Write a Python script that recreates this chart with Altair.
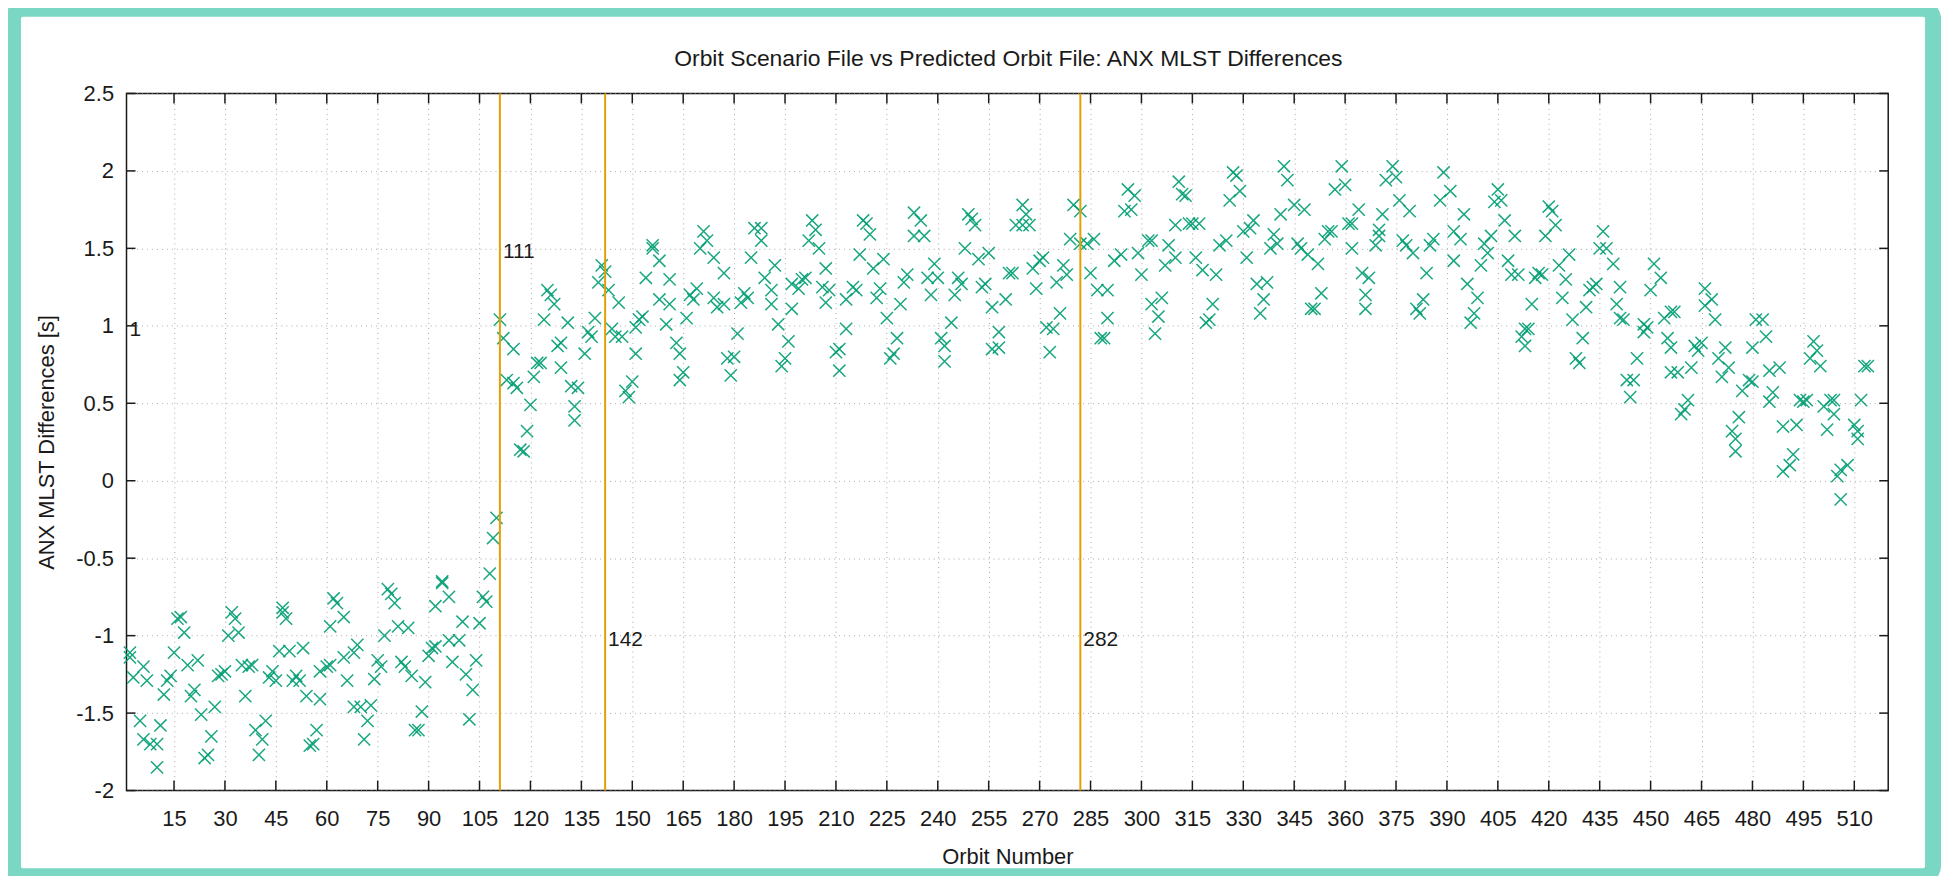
import altair as alt
import pandas as pd

# ---- data (orbit number, ANX MLST difference [s]) ----
orbit_a = [2, 2, 3, 5, 6, 6, 7, 8, 10, 10, 11, 12, 13, 14, 15, 16, 17, 18, 19, 20, 21, 22, 23, 24, 25,
           26, 27, 28, 29, 30, 31, 32, 33, 34, 35, 36, 37, 38, 39, 40, 41, 42, 43, 44, 45, 46, 47, 47,
           48, 49, 50, 51, 52, 53, 54, 55, 56, 57, 58, 58, 60, 61, 61, 62, 63, 65, 65, 66, 68, 68]
diff_a = [-1.11, -1.14, -1.27, -1.55, -1.20, -1.67, -1.29, -1.70, -1.85, -1.70, -1.58, -1.38, -1.29,
          -1.26, -1.11, -0.89, -0.88, -0.98, -1.19, -1.39, -1.35, -1.16, -1.51, -1.79, -1.77, -1.65,
          -1.46, -1.26, -1.25, -1.23, -1.00, -0.85, -0.89, -0.98, -1.19, -1.39, -1.20, -1.19, -1.61,
          -1.77, -1.67, -1.55, -1.27, -1.23, -1.29, -1.10, -0.85, -0.82, -0.89, -1.10, -1.29, -1.26,
          -1.29, -1.08, -1.39, -1.71, -1.70, -1.61, -1.41, -1.23, -1.20, -1.19, -0.94, -0.76, -0.79,
          -0.88, -1.14, -1.29, -1.11, -1.46]

orbit_b = [69, 70, 71, 72, 73, 74, 75, 76, 77, 78, 79, 80, 81, 82, 83, 84, 85, 86, 87, 88, 89, 90, 91,
           92, 92, 94, 94, 96, 96, 97, 99, 100, 101, 102, 103, 104, 105, 106, 107, 108, 109, 110, 111,
           112, 113, 115, 115, 116, 117, 118, 119, 120, 121, 122, 123, 124, 125, 126, 127, 128, 129,
           129, 131, 132, 133, 133]
diff_b = [-1.06, -1.46, -1.67, -1.55, -1.45, -1.28, -1.16, -1.20, -1.00, -0.70, -0.73, -0.79, -0.94,
          -1.17, -1.20, -0.95, -1.26, -1.61, -1.61, -1.49, -1.30, -1.13, -1.08, -1.07, -0.81, -0.65,
          -0.66, -0.75, -1.03, -1.17, -1.03, -0.91, -1.25, -1.54, -1.35, -1.16, -0.92, -0.75, -0.78,
          -0.60, -0.37, -0.24, 1.04, 0.92, 0.65, 0.63, 0.85, 0.60, 0.20, 0.19, 0.32, 0.49, 0.67, 0.76,
          0.76, 1.04, 1.23, 1.20, 1.14, 0.87, 0.89, 0.73, 1.02, 0.61, 0.48, 0.39]

orbit_c = [134, 136, 137, 138, 139, 140, 141, 142, 143, 144, 145, 146, 147, 148, 149, 150, 151, 151,
           152, 153, 154, 156, 156, 158, 158, 160, 161, 161, 163, 164, 165, 164, 166, 167, 168, 169,
           170, 171, 172, 174, 174, 175, 177, 177, 178, 179, 180, 181, 182, 183, 184, 185, 186, 188,
           188, 189, 192, 191, 191, 193, 194, 195, 196, 197, 197]
diff_c = [0.60, 0.82, 0.96, 0.93, 1.05, 1.28, 1.39, 1.35, 1.23, 0.98, 0.93, 1.15, 0.93, 0.58, 0.54,
          0.64, 0.82, 0.99, 1.04, 1.06, 1.31, 1.52, 1.50, 1.42, 1.17, 1.01, 1.14, 1.30, 0.89, 0.82,
          0.70, 0.65, 1.05, 1.20, 1.17, 1.24, 1.50, 1.61, 1.55, 1.44, 1.18, 1.12, 1.14, 1.34, 0.79,
          0.68, 0.80, 0.95, 1.15, 1.21, 1.18, 1.44, 1.63, 1.63, 1.55, 1.31, 1.39, 1.14, 1.23, 1.01,
          0.74, 0.79, 0.90, 1.11, 1.27]

orbit_d = [199, 200, 201, 202, 203, 204, 205, 206, 207, 207, 208, 210, 211, 211, 213, 213, 215, 216,
           217, 218, 219, 220, 221, 222, 223, 224, 225, 226, 227, 228, 229, 230, 231, 233, 235, 233,
           236, 237, 239, 238, 240, 241, 242, 242, 244, 245, 246, 247, 248, 249, 250, 251, 252, 253,
           254, 255, 256, 256, 258, 258, 260, 261, 262, 263]
diff_d = [1.24, 1.30, 1.31, 1.55, 1.68, 1.62, 1.50, 1.25, 1.15, 1.37, 1.23, 0.83, 0.85, 0.71, 0.98,
          1.17, 1.25, 1.23, 1.46, 1.68, 1.66, 1.59, 1.37, 1.18, 1.24, 1.43, 1.05, 0.79, 0.82, 0.92,
          1.14, 1.28, 1.33, 1.73, 1.68, 1.58, 1.58, 1.31, 1.40, 1.20, 1.31, 0.92, 0.87, 0.77, 1.02,
          1.20, 1.31, 1.27, 1.50, 1.72, 1.69, 1.65, 1.43, 1.25, 1.27, 1.47, 1.12, 0.85, 0.86, 0.96,
          1.17, 1.34, 1.34, 1.65]

orbit_e = [265, 266, 267, 265, 268, 270, 271, 269, 272, 274, 273, 276, 275, 278, 277, 279, 280, 282,
           282, 284, 286, 285, 287, 290, 288, 289, 290, 292, 294, 295, 296, 298, 297, 299, 300, 302,
           303, 303, 304, 305, 306, 307, 308, 310, 310, 311, 312, 313, 314, 315, 317, 316, 318, 320,
           321, 319, 322, 323, 325, 326, 327]
diff_e = [1.78, 1.72, 1.65, 1.65, 1.37, 1.42, 1.44, 1.24, 0.99, 0.98, 0.83, 1.08, 1.28, 1.33, 1.39,
          1.56, 1.78, 1.74, 1.53, 1.53, 1.56, 1.34, 1.23, 1.23, 0.92, 0.92, 1.05, 1.42, 1.46, 1.74,
          1.88, 1.84, 1.75, 1.47, 1.33, 1.55, 1.55, 1.14, 0.95, 1.06, 1.18, 1.39, 1.52, 1.44, 1.65,
          1.93, 1.85, 1.84, 1.66, 1.66, 1.66, 1.44, 1.36, 1.04, 1.14, 1.02, 1.33, 1.52, 1.55, 1.81,
          1.99]

orbit_f = [328, 329, 330, 332, 333, 331, 334, 337, 336, 335, 338, 339, 340, 341, 342, 343, 345, 348,
           346, 347, 349, 350, 351, 353, 352, 354, 355, 356, 357, 359, 360, 361, 362, 362, 364, 365,
           367, 366, 366, 369, 370, 371, 370, 372, 374, 375, 376, 379, 377, 378, 380, 381, 382, 383,
           384, 385, 386, 388, 389, 391, 392, 392]
diff_f = [1.97, 1.87, 1.61, 1.63, 1.68, 1.44, 1.27, 1.28, 1.17, 1.08, 1.50, 1.59, 1.53, 1.72, 2.03,
          1.94, 1.78, 1.75, 1.53, 1.50, 1.46, 1.11, 1.11, 1.21, 1.40, 1.56, 1.61, 1.61, 1.88, 2.03,
          1.91, 1.66, 1.66, 1.50, 1.75, 1.34, 1.31, 1.20, 1.11, 1.52, 1.62, 1.72, 1.58, 1.94, 2.03,
          1.96, 1.81, 1.74, 1.55, 1.52, 1.47, 1.11, 1.08, 1.17, 1.34, 1.52, 1.56, 1.81, 1.99, 1.87,
          1.61, 1.42]

orbit_g = [394, 395, 396, 399, 398, 397, 400, 401, 402, 403, 404, 405, 406, 407, 408, 409, 411, 410,
           412, 413, 414, 413, 415, 416, 417, 418, 419, 420, 421, 422, 423, 424, 425, 426, 427, 428,
           429, 430, 431, 432, 433, 434, 435, 436, 437, 439, 441, 440, 441, 442, 443, 445, 444, 446,
           448, 448, 449, 450, 451, 453, 454, 455, 456, 456, 456]
diff_g = [1.56, 1.72, 1.27, 1.18, 1.08, 1.02, 1.39, 1.53, 1.47, 1.58, 1.80, 1.88, 1.81, 1.68, 1.42,
          1.33, 1.33, 1.58, 0.93, 0.98, 0.98, 0.87, 1.14, 1.31, 1.34, 1.33, 1.58, 1.77, 1.74, 1.65,
          1.39, 1.18, 1.30, 1.46, 1.04, 0.79, 0.76, 0.92, 1.12, 1.23, 1.25, 1.27, 1.50, 1.61, 1.50,
          1.40, 1.25, 1.14, 1.05, 1.04, 0.65, 0.65, 0.54, 0.79, 0.96, 1.01, 0.99, 1.23, 1.40, 1.31,
          1.05, 0.92, 0.86, 0.70, 1.09]

orbit_h = [457, 458, 459, 460, 461, 462, 463, 465, 464, 466, 468, 466, 469, 470, 472, 471, 473, 474,
           476, 475, 475, 477, 479, 480, 480, 481, 483, 484, 485, 488, 486, 485, 489, 489, 491, 492,
           493, 494, 496, 495, 497, 498, 499, 500, 501, 502, 504, 503, 504, 505, 506, 506, 508, 510,
           511, 511, 512, 513, 514]
diff_h = [1.09, 0.70, 0.43, 0.46, 0.52, 0.73, 0.87, 0.89, 0.84, 1.24, 1.17, 1.13, 1.04, 0.79, 0.86,
          0.67, 0.73, 0.32, 0.41, 0.27, 0.19, 0.58, 0.65, 0.64, 0.86, 1.04, 1.04, 0.93, 0.71, 0.73,
          0.57, 0.51, 0.35, 0.06, 0.10, 0.17, 0.36, 0.52, 0.52, 0.51, 0.79, 0.90, 0.84, 0.74, 0.48,
          0.33, 0.52, 0.52, 0.43, 0.03, 0.07, -0.12, 0.10, 0.36, 0.32, 0.27, 0.52, 0.74, 0.74]

x_ticks = list(range(15, 511, 15))
y_ticks = [-2, -1.5, -1, -0.5, 0, 0.5, 1, 1.5, 2, 2.5]
event_orbits = [111, 142, 282]
label_x = [1, 111, 142, 282]
label_y = [1, 1.5, -1, -1]
label_text = ["1", "111", "142", "282"]
title_text = ["Orbit Scenario File vs Predicted Orbit File: ANX MLST Differences"]

# ---- layout ----
W, H = 1769, 700
PAD_L, PAD_T, PAD_R, PAD_B = 119, 84, 53, 84
BAND = 16
FONT = "Liberation Sans"
GREEN = "#009e73"
ORANGE = "#e69f00"
FRAME = "#7ad7c4"
INK = "#1a1a1a"

orbits = orbit_a + orbit_b + orbit_c + orbit_d + orbit_e + orbit_f + orbit_g + orbit_h
diffs = diff_a + diff_b + diff_c + diff_d + diff_e + diff_f + diff_g + diff_h
df = pd.DataFrame({"orbit": orbits, "diff": diffs})

xscale = alt.Scale(domain=[1, 520], nice=False, zero=False)
yscale = alt.Scale(domain=[-2, 2.5], nice=False, zero=False)

points = alt.Chart(df).mark_point(
    shape="M-1,-1L1,1M-1,1L1,-1", filled=False, color=GREEN,
    strokeWidth=1.5, size=150, opacity=0.9,
).encode(
    x=alt.X("orbit:Q", scale=xscale, axis=alt.Axis(
        values=x_ticks, grid=True, gridColor="#a8a8a8", gridDash=[1, 4], gridWidth=1,
        domain=False, ticks=False, tickSize=0, labelPadding=28, labelBaseline="middle",
        labelFont=FONT, labelFontSize=22, labelColor=INK, labelFlush=False, labelOverlap=False,
        labelExpr="toString(datum.value)",
        title="Orbit Number", titleFont=FONT, titleFontSize=22, titleFontWeight="normal",
        titleColor=INK, titleY=66, titleBaseline="middle",
    )),
    y=alt.Y("diff:Q", scale=yscale, axis=alt.Axis(
        values=y_ticks, grid=True, gridColor="#a8a8a8", gridDash=[1, 4], gridWidth=1,
        domain=False, ticks=False, tickSize=0, labelPadding=13,
        labelFont=FONT, labelFontSize=22, labelColor=INK, labelFlush=False, labelOverlap=False,
        labelExpr="toString(datum.value)",
        title="ANX MLST Differences [s]", titleFont=FONT, titleFontSize=22,
        titleFontWeight="normal", titleColor=INK, titleX=-80, titleBaseline="middle",
        titleAngle=270,
    )),
)

xt = pd.DataFrame({"t": x_ticks})
yt = pd.DataFrame({"t": y_ticks})
tick_style = dict(color=INK, strokeWidth=1.5)
xtick_bottom = alt.Chart(xt).mark_rule(**tick_style).encode(
    x=alt.X("t:Q", scale=xscale, axis=None), y=alt.value(H), y2=alt.value(H - 10))
xtick_top = alt.Chart(xt).mark_rule(**tick_style).encode(
    x=alt.X("t:Q", scale=xscale, axis=None), y=alt.value(0), y2=alt.value(10))
ytick_left = alt.Chart(yt).mark_rule(**tick_style).encode(
    y=alt.Y("t:Q", scale=yscale, axis=None), x=alt.value(0), x2=alt.value(9))
ytick_right = alt.Chart(yt).mark_rule(**tick_style).encode(
    y=alt.Y("t:Q", scale=yscale, axis=None), x=alt.value(W), x2=alt.value(W - 9))

vlines = alt.Chart(pd.DataFrame({"v": event_orbits})).mark_rule(
    color=ORANGE, strokeWidth=2).encode(x=alt.X("v:Q", scale=xscale, axis=None))

labels = alt.Chart(pd.DataFrame({"x": label_x, "y": label_y, "t": label_text})).mark_text(
    align="left", baseline="middle", dx=3, dy=4, font=FONT, fontSize=21, color=INK,
).encode(
    x=alt.X("x:Q", scale=xscale, axis=None),
    y=alt.Y("y:Q", scale=yscale, axis=None),
    text="t:N",
)

title = alt.Chart(pd.DataFrame({"t": title_text})).mark_text(
    align="center", baseline="middle", font=FONT, fontSize=23, color=INK,
).encode(x=alt.value(W / 2 + 1), y=alt.value(-35), text="t:N")

# decorative rounded border round the whole picture (partly cut by the page edges)
frame = alt.Chart(pd.DataFrame({"k": [0]})).mark_rect(
    fillOpacity=0, stroke=FRAME, strokeWidth=BAND, cornerRadius=10,
).encode(
    x=alt.value(-PAD_L + 5), x2=alt.value(W + PAD_R - 8),
    y=alt.value(-PAD_T - 1), y2=alt.value(H + PAD_B + 2),
)

chart = alt.layer(
    points, vlines, xtick_bottom, xtick_top, ytick_left, ytick_right, labels, title, frame
).resolve_axis(
    x="independent", y="independent"
).properties(
    width=W, height=H,
    padding={"left": PAD_L, "top": PAD_T, "right": PAD_R, "bottom": PAD_B},
    autosize=alt.AutoSizeParams(type="none"),
    background="white",
).configure_view(stroke=INK, strokeWidth=1.5)

chart.save("out.html", embed_options={"renderer": "svg", "actions": False})
